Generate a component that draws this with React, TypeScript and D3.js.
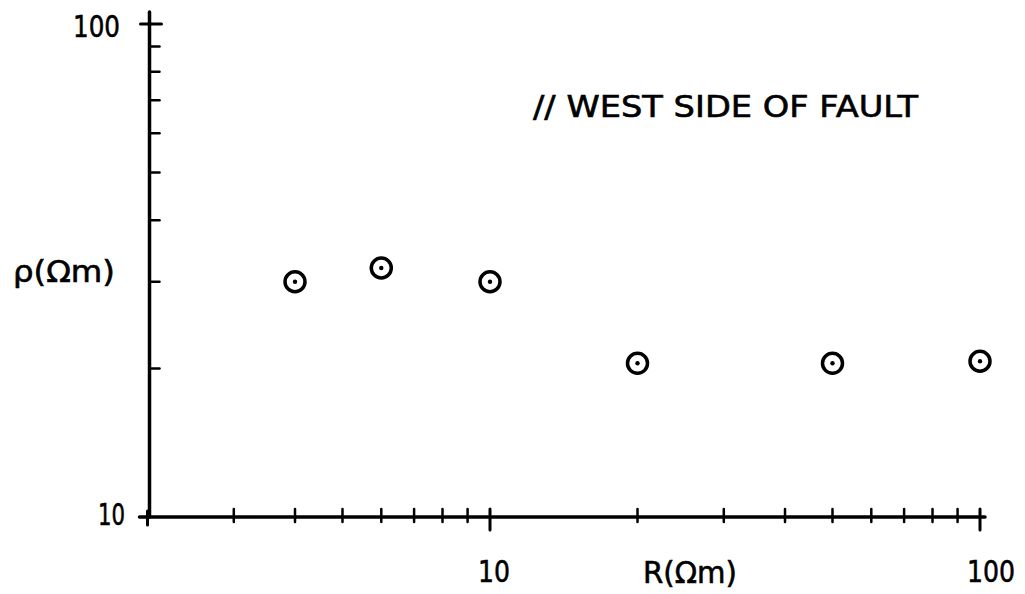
import React from 'react';
import * as d3 from 'd3';

// spacing R and apparent resistivity rho
const spacing = [4, 6, 10, 20, 50, 100];
const rho = [30, 32, 30, 20.5, 20.5, 20.7];

const xMinorTicks = [3, 4, 5, 6, 7, 8, 9, 20, 30, 40, 50, 60, 70, 80, 90];
const xMajorTicks = [10, 100];
const yMinorTicks = [20, 30, 40, 50, 60, 70, 80, 90];
const yTickLabels = ['10', '100'];
const xTickLabels = ['10', '100'];

const title = '// WEST SIDE OF FAULT';
const xTitle = 'R(Ωm)';
const yTitle = 'ρ(Ωm)';

const W = 1025;
const H = 594;
const FONT = '"DejaVu Sans", sans-serif';

export default function App() {
  const x = d3.scaleLog().domain([10, 100]).range([490, 980]);
  const y = d3.scaleLog().domain([10, 100]).range([517, 24]);

  const x0 = x(2);
  const yBase = y(10);
  const yAxisX = x0 + 2;

  const pts = spacing.map((s, i) => ({ s, r: rho[i] }));

  return (
    <svg width={W} height={H} style={{ position: 'absolute', left: 0, top: 0, background: '#fff' }}>
      <g stroke="#000" strokeLinecap="round" fill="none">
        {/* y axis */}
        <line x1={yAxisX} y1={12} x2={yAxisX} y2={yBase} strokeWidth={3.5} />
        {yMinorTicks.map(v => (
          <line key={v} x1={yAxisX} y1={y(v)} x2={yAxisX + 10} y2={y(v)} strokeWidth={2.5} />
        ))}
        <line x1={yAxisX - 9} y1={y(100)} x2={yAxisX + 12} y2={y(100)} strokeWidth={3} />

        {/* x axis */}
        <line x1={x0 - 8} y1={yBase} x2={x(100) + 5} y2={yBase} strokeWidth={3.5} />
        {xMinorTicks.map(v => (
          <line key={v} x1={x(v)} y1={yBase - 8} x2={x(v)} y2={yBase + 5} strokeWidth={2.5} />
        ))}
        {xMajorTicks.map(v => (
          <line key={v} x1={x(v)} y1={yBase - 8} x2={x(v)} y2={yBase + 13} strokeWidth={3} />
        ))}
        <line x1={x0} y1={yBase - 6} x2={x0} y2={yBase + 8} strokeWidth={3} />

        {/* data points */}
        {pts.map(p => (
          <g key={p.s} transform={`translate(${x(p.s)},${y(p.r)})`}>
            <circle r={10} strokeWidth={3.5} />
            <circle r={2.2} fill="#000" stroke="none" />
          </g>
        ))}
      </g>

      <g fontFamily={FONT} fill="#000" stroke="#000" strokeWidth={0.6}>
        <text x={73} y={37} fontSize={31} textLength={47} lengthAdjust="spacingAndGlyphs">{yTickLabels[1]}</text>
        <text x={98} y={525} fontSize={31} textLength={27} lengthAdjust="spacingAndGlyphs">{yTickLabels[0]}</text>
        <text x={478} y={582} fontSize={31} textLength={32} lengthAdjust="spacingAndGlyphs">{xTickLabels[0]}</text>
        <text x={967} y={582} fontSize={31} textLength={48} lengthAdjust="spacingAndGlyphs">{xTickLabels[1]}</text>
        <text x={643} y={583} fontSize={30} textLength={94} lengthAdjust="spacingAndGlyphs">{xTitle}</text>
        <text x={13} y={282} fontSize={30} textLength={102} lengthAdjust="spacingAndGlyphs">{yTitle}</text>
        <text x={533} y={117} fontSize={30} textLength={385} lengthAdjust="spacingAndGlyphs">{title}</text>
      </g>
    </svg>
  );
}
